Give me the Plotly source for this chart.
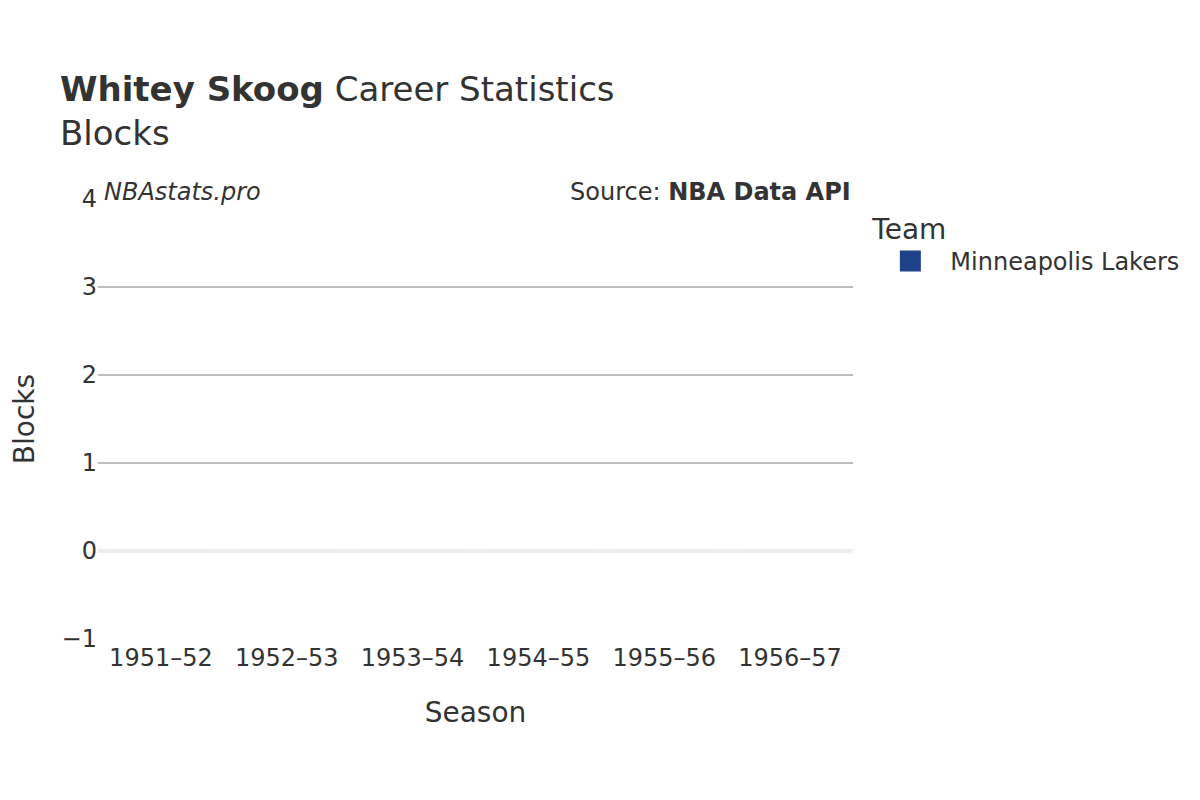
import plotly.graph_objects as go

# season labels and blocks per season
seasons = ["1951–52", "1952–53", "1953–54", "1954–55", "1955–56", "1956–57"]
blocks = [0, 0, 0, 0, 0, 0]
team = "Minneapolis Lakers"
team_color = "#1d428a"

fig = go.Figure()

# the bars themselves (all zero, so nothing visible)
fig.add_trace(go.Bar(
    x=seasons,
    y=blocks,
    name=team,
    legendgroup=team,
    marker=dict(color=team_color),
    showlegend=False,
))

# legend entry only: a big square marker looks closer to the reference
fig.add_trace(go.Scatter(
    x=seasons,
    y=[None] * len(seasons),
    mode="markers",
    name=team,
    legendgroup=team,
    marker=dict(symbol="square", size=16, color=team_color,
                line=dict(color=team_color, width=5)),
    showlegend=True,
))

fig.update_layout(
    width=1200,
    height=800,
    plot_bgcolor="white",
    paper_bgcolor="white",
    font=dict(family="DejaVu Sans", color="#333333", size=24),
    title=dict(
        text="<b>Whitey Skoog</b> Career Statistics<br>Blocks",
        x=0.0433, xanchor="left",
        y=0.884, yanchor="top",
        font=dict(size=34, color="#333333"),
    ),
    margin=dict(l=90, r=355, t=191, b=169),
    legend=dict(
        title=dict(text="Team", font=dict(size=28)),
        font=dict(size=24),
        x=1.023, xanchor="left",
        y=0.992, yanchor="top",
        itemsizing="trace",
        itemwidth=70,
    ),
    xaxis=dict(
        title=dict(text="Season", font=dict(size=28), standoff=31),
        automargin=False,
        showgrid=False,
        showline=False,
        ticks="",
        ticklabelstandoff=2,
    ),
    yaxis=dict(
        title=dict(text="Blocks", font=dict(size=28), standoff=41),
        automargin=False,
        range=[-1, 4],
        dtick=1,
        showgrid=True,
        gridcolor="#bdbdbd",
        gridwidth=1.5,
        zeroline=True,
        zerolinecolor="#eeeeee",
        zerolinewidth=4,
        ticks="",
    ),
    annotations=[
        dict(
            text="<i>NBAstats.pro</i>",
            xref="paper", yref="paper",
            x=0.005, y=1.016, xanchor="left", yanchor="middle",
            showarrow=False, font=dict(size=24, color="#333333"),
        ),
        dict(
            text="Source: <b>NBA Data API</b>",
            xref="paper", yref="paper",
            x=1.0, y=1.016, xanchor="right", yanchor="middle",
            showarrow=False, font=dict(size=24, color="#333333"),
        ),
    ],
)

fig.write_html("out.html")
